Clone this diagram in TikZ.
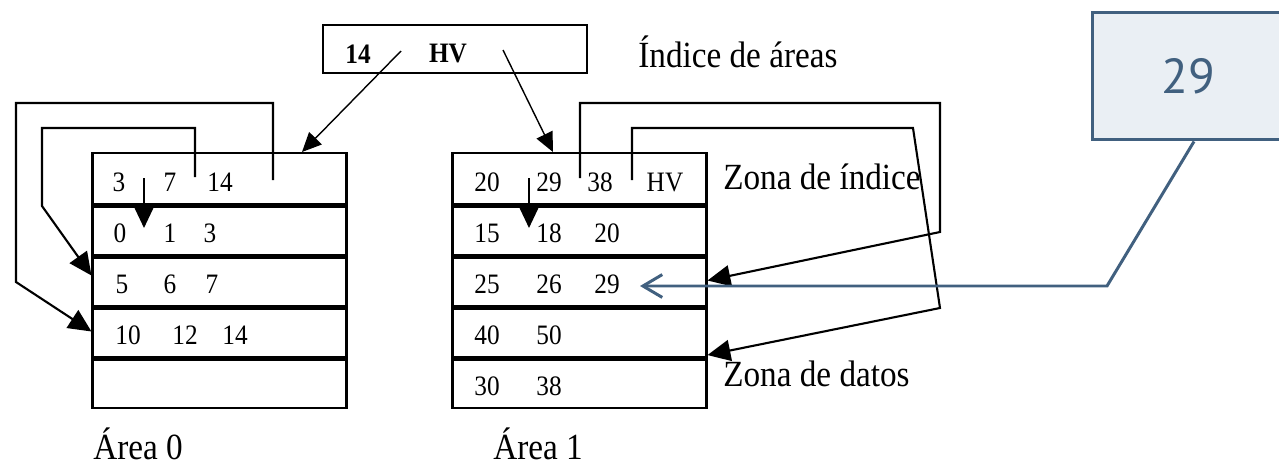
\documentclass[tikz,border=0pt]{standalone}
\usepackage{fontspec}
\setmainfont[FakeStretch=0.9]{Liberation Serif}
\newfontfamily\clavefont{PT Sans}
\usetikzlibrary{arrows.meta}

\definecolor{AzulClave}{HTML}{41607F}
\definecolor{FondoClave}{HTML}{EAEFF4}

\begin{document}
\begin{tikzpicture}[x=0.02cm, y=-0.02cm]

      \tikzstyle{Fila} = [
      rectangle,
      minimum width=5.08cm,
      minimum height=1.02cm,
      inner sep=0pt,
      draw=black,
      line width=1.2pt
      ]
      \tikzstyle{Separador} = [line width=2.8pt]
      \tikzstyle{Dato} = [inner sep=0pt, font=\fontsize{16}{16}\selectfont]
      \tikzstyle{Rotulo} = [inner sep=0pt, anchor=base west, font=\fontsize{21}{21}\selectfont]
      \tikzstyle{Puntero} = [line width=1.2pt, -{Triangle[length=13pt,width=12pt]}]
      \tikzstyle{Diagonal} = [line width=0.8pt, -{Triangle[length=11pt,width=10pt]}]
      \tikzstyle{Clave} = [
      rectangle,
      minimum width=4.16cm,
      minimum height=2.56cm,
      draw=AzulClave,
      fill=FondoClave,
      line width=1.7pt,
      text=AzulClave,
      font=\clavefont\fontsize{28}{28}\selectfont
      ]
      \tikzstyle{Llamada} = [draw=AzulClave, line width=1.7pt, -{Straight Barb[length=11pt,width=13pt]}]

      \useasboundingbox (0,0) rectangle (1279,467);

      % las dos areas, cinco filas cada una
      \foreach \k in {1,...,5} {
        \node (CeroFila\k) [Fila] at (219.5, 127.5+51*\k) {};
        \node (UnoFila\k) [Fila] at (579.5, 127.5+51*\k) {};
      }
      \foreach \k in {1,...,4} {
        \draw [Separador] (CeroFila\k.south west) -- (CeroFila\k.south east);
        \draw [Separador] (UnoFila\k.south west) -- (UnoFila\k.south east);
      }

      \foreach \x/\y/\t [count=\n] in {
        119/182.5/3, 170/182.5/7, 220/182.5/14,
        120/233.5/0, 170/233.5/1, 210/233.5/3,
        122/284.5/5, 170/284.5/6, 212/284.5/7,
        128/335.5/10, 185/335.5/12, 235/335.5/14}
        \node (CeroDato\n) [Dato] at (\x,\y) {\t};

      \foreach \x/\y/\t [count=\n] in {
        487/182.5/20, 549/182.5/29, 600/182.5/38, 665/182.5/HV,
        487/233.5/15, 549/233.5/18, 607/233.5/20,
        487/284.5/25, 549/284.5/26, 607/284.5/29,
        487/335.5/40, 549/335.5/50,
        487/386.5/30, 549/386.5/38}
        \node (UnoDato\n) [Dato] at (\x,\y) {\t};

      % indice de areas
      \node (IndiceAreas) [Fila, minimum width=5.28cm, minimum height=0.96cm] at (455,49) {};
      \node (IndiceCatorce) [Dato, font=\fontsize{16}{16}\selectfont\bfseries] at (358,54) {14};
      \node (IndiceHV) [Dato, font=\fontsize{16}{16}\selectfont\bfseries] at (448,54) {HV};

      \node (RotuloIndiceAreas) [Rotulo] at (638,67) {Índice de áreas};
      \node (RotuloZonaIndice) [Rotulo] at (723,189) {Zona de índice};
      \node (RotuloZonaDatos) [Rotulo] at (723,386) {Zona de datos};
      \node (RotuloAreaCero) [Rotulo] at (93,459) {Área 0};
      \node (RotuloAreaUno) [Rotulo] at (493,459) {Área 1};

      \coordinate (SalidaCero) at (401,51);
      \coordinate (LlegadaCero) at (302,152);
      \coordinate (SalidaUno) at (503,50);
      \coordinate (LlegadaUno) at (553,152);
      \draw [Diagonal] (SalidaCero) -- (LlegadaCero);
      \draw [Diagonal] (SalidaUno) -- (LlegadaUno);

      % punteros del area 0
      \draw [Puntero] (144,178) -- (144,228);
      \draw [Puntero] (195,177) |- (42,128) -- (42,206) -- ([yshift=0.1cm]CeroFila3.west);
      \draw [Puntero] (273,180) |- (16,103) -- (16,282) -- (CeroFila4.west);

      % punteros del area 1
      \draw [Puntero] (529,178) -- (529,228);
      \draw [Puntero] (580,178) |- (940,103) -- (940,232) -- (UnoFila3.east);
      \draw [Puntero] (632,180) |- (913,128) -- (940,308) -- ([yshift=0.06cm]UnoFila4.south east);

      % clave buscada
      \node (Buscado) [Clave] at (1196,76) {29\kern0.32cm};
      \coordinate (CodoClave) at (1107,286);
      \coordinate (DestinoClave) at (640,286);
      \draw [Llamada] ([xshift=-0.04cm]Buscado.south) -- (CodoClave) -- (DestinoClave);

\end{tikzpicture}
\end{document}
